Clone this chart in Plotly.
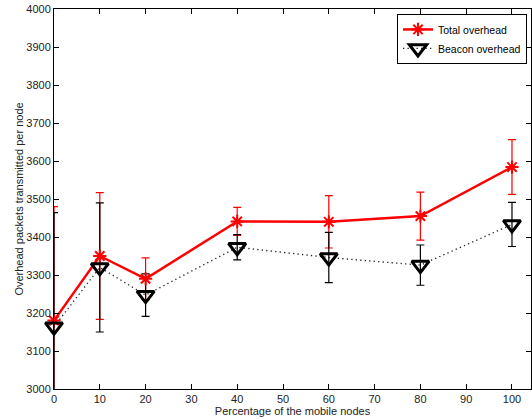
import plotly.graph_objects as go

x_vals = [0, 10, 20, 40, 60, 80, 100]
total_overhead = [3180, 3350, 3290, 3441, 3440, 3455, 3584]
total_err = [300, 167, 55, 37, 69, 63, 72]
beacon_overhead = [3164, 3320, 3247, 3373, 3346, 3326, 3433]
beacon_err = [300, 170, 56, 33, 66, 53, 58]
x_ticks = [0, 10, 20, 30, 40, 50, 60, 70, 80, 90, 100]
y_ticks = [3000, 3100, 3200, 3300, 3400, 3500, 3600, 3700, 3800, 3900, 4000]

FONT = "Liberation Sans, Arial, Helvetica, sans-serif"

fig = go.Figure()

# error bar traces (clipped to plot area)
fig.add_trace(go.Scatter(
    x=x_vals, y=total_overhead, mode="markers", showlegend=False,
    marker=dict(size=1, opacity=0),
    error_y=dict(type="data", array=total_err, color="red", thickness=1.2, width=4),
    hoverinfo="skip"))
fig.add_trace(go.Scatter(
    x=x_vals, y=beacon_overhead, mode="markers", showlegend=False,
    marker=dict(size=1, opacity=0),
    error_y=dict(type="data", array=beacon_err, color="black", thickness=1.2, width=4),
    hoverinfo="skip"))

fig.add_trace(go.Scatter(
    x=x_vals, y=total_overhead, mode="lines+markers", name="Total overhead",
    line=dict(color="red", width=2.5),
    marker=dict(symbol="asterisk-open", size=11, color="red",
                line=dict(color="red", width=2)),
    cliponaxis=False))
fig.add_trace(go.Scatter(
    x=x_vals, y=beacon_overhead, mode="lines+markers", name="Beacon overhead",
    line=dict(color="#222", width=1.3, dash="1.3px,3.2px"),
    marker=dict(symbol="triangle-down-open", size=15, color="black",
                line=dict(color="black", width=3)),
    cliponaxis=False))

axis_common = dict(
    showline=True, linecolor="black", linewidth=1, mirror="allticks",
    ticks="inside", ticklen=5, tickcolor="black", tickwidth=1,
    showgrid=False, zeroline=False,
    tickfont=dict(family=FONT, size=11, color="#222"),
    automargin=False,
)

fig.update_xaxes(
    range=[0, 104.15], tickvals=x_ticks,
    title=dict(text="Percentage of the mobile nodes", standoff=1,
               font=dict(family=FONT, size=11, color="#222")),
    **axis_common)
fig.update_yaxes(
    range=[3000, 4000], tickvals=y_ticks,
    title=dict(text="Overhead packets transmitted per node", standoff=0,
               font=dict(family=FONT, size=11, color="#222")),
    **axis_common)

fig.update_layout(
    width=532, height=419,
    margin=dict(l=54, r=1, t=9, b=30, pad=0),
    template="none",
    plot_bgcolor="white", paper_bgcolor="white",
    font=dict(family=FONT, size=11, color="#222"),
    showlegend=True,
    legend=dict(x=0.9916, y=0.987, xanchor="right", yanchor="top",
                bgcolor="white", bordercolor="black", borderwidth=1,
                font=dict(family=FONT, size=10.5, color="black"),
                itemwidth=30, tracegroupgap=0),
)

fig.write_html("out.html")
